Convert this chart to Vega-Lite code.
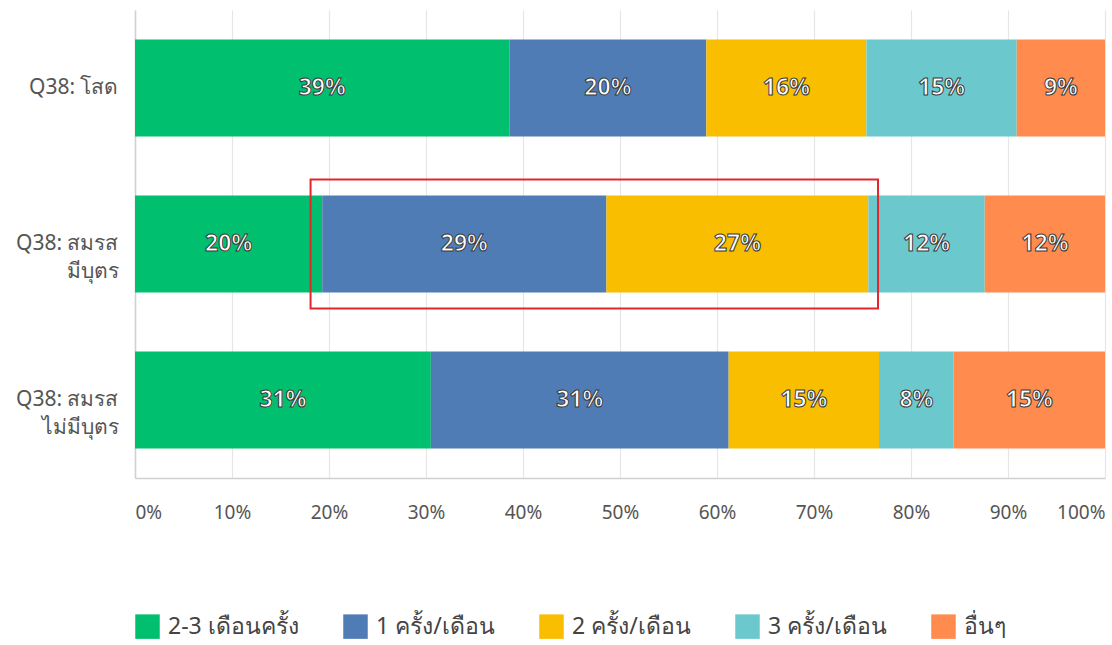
{
  "$schema": "https://vega.github.io/schema/vega-lite/v6.json",
  "width": 970,
  "height": 468,
  "autosize": {"type": "none"},
  "padding": {"left": 135, "top": 10, "right": 7, "bottom": 167},
  "background": "white",
  "config": {
    "font": "Noto Sans",
    "view": {"stroke": null}
  },
  "datasets": {
    "bars": [
      {"group": "Q38: โสด", "cat": "2-3 เดือนครั้ง", "ord": 1, "value": 38.6, "label": "39%"},
      {"group": "Q38: โสด", "cat": "1 ครั้ง/เดือน", "ord": 2, "value": 20.3, "label": "20%"},
      {"group": "Q38: โสด", "cat": "2 ครั้ง/เดือน", "ord": 3, "value": 16.5, "label": "16%"},
      {"group": "Q38: โสด", "cat": "3 ครั้ง/เดือน", "ord": 4, "value": 15.5, "label": "15%"},
      {"group": "Q38: โสด", "cat": "อื่นๆ", "ord": 5, "value": 9.1, "label": "9%"},
      {"group": "Q38: สมรส\nมีบุตร", "cat": "2-3 เดือนครั้ง", "ord": 1, "value": 19.3, "label": "20%"},
      {"group": "Q38: สมรส\nมีบุตร", "cat": "1 ครั้ง/เดือน", "ord": 2, "value": 29.3, "label": "29%"},
      {"group": "Q38: สมรส\nมีบุตร", "cat": "2 ครั้ง/เดือน", "ord": 3, "value": 27.0, "label": "27%"},
      {"group": "Q38: สมรส\nมีบุตร", "cat": "3 ครั้ง/เดือน", "ord": 4, "value": 12.0, "label": "12%"},
      {"group": "Q38: สมรส\nมีบุตร", "cat": "อื่นๆ", "ord": 5, "value": 12.4, "label": "12%"},
      {"group": "Q38: สมรส\nไม่มีบุตร", "cat": "2-3 เดือนครั้ง", "ord": 1, "value": 30.5, "label": "31%"},
      {"group": "Q38: สมรส\nไม่มีบุตร", "cat": "1 ครั้ง/เดือน", "ord": 2, "value": 30.7, "label": "31%"},
      {"group": "Q38: สมรส\nไม่มีบุตร", "cat": "2 ครั้ง/เดือน", "ord": 3, "value": 15.5, "label": "15%"},
      {"group": "Q38: สมรส\nไม่มีบุตร", "cat": "3 ครั้ง/เดือน", "ord": 4, "value": 7.7, "label": "8%"},
      {"group": "Q38: สมรส\nไม่มีบุตร", "cat": "อื่นๆ", "ord": 5, "value": 15.6, "label": "15%"}
    ],
    "box": [
      {"group": "Q38: สมรส\nมีบุตร", "start": 18.1, "end": 76.6}
    ]
  },
  "layer": [
    {
      "data": {"name": "bars"},
      "transform": [
        {"stack": "value", "groupby": ["group"], "sort": [{"field": "ord"}], "as": ["v0", "v1"]}
      ],
      "mark": {"type": "bar", "height": {"band": 0.752}},
      "encoding": {
        "y": {
          "field": "group", "type": "nominal",
          "sort": ["Q38: โสด", "Q38: สมรส\nมีบุตร", "Q38: สมรส\nไม่มีบุตร"],
          "scale": {"paddingInner": 0.173, "paddingOuter": 0.0865},
          "axis": {
            "title": null, "ticks": false, "grid": false,
            "domain": true, "domainColor": "#d0d0d0", "domainWidth": 1.5,
            "labelExpr": "split(datum.label, '\\n')",
            "labelFontSize": 21, "labelColor": "#555555", "labelPadding": 17,
            "labelLineHeight": 28
          }
        },
        "x": {
          "field": "v0", "type": "quantitative",
          "scale": {"domain": [0, 100], "nice": false},
          "axis": {
            "title": null, "values": [0,10,20,30,40,50,60,70,80,90,100],
            "labelExpr": "datum.value + '%'",
            "ticks": false, "grid": true, "gridColor": "#e6e6e6", "gridWidth": 1.2,
            "domain": true, "domainColor": "#d0d0d0", "domainWidth": 1.5,
            "labelFontSize": 19, "labelColor": "#555555", "labelPadding": 25,
            "labelFlush": true
          }
        },
        "x2": {"field": "v1"},
        "color": {
          "field": "cat", "type": "nominal",
          "sort": ["2-3 เดือนครั้ง", "1 ครั้ง/เดือน", "2 ครั้ง/เดือน", "3 ครั้ง/เดือน", "อื่นๆ"],
          "scale": {
            "domain": ["2-3 เดือนครั้ง", "1 ครั้ง/เดือน", "2 ครั้ง/เดือน", "3 ครั้ง/เดือน", "อื่นๆ"],
            "range": ["#00BF6F", "#507CB6", "#F9BE00", "#6BC8CD", "#FF8B4F"]
          },
          "legend": {
            "title": null, "orient": "bottom", "direction": "horizontal",
            "offset": 92, "symbolType": "square", "symbolSize": 600,
            "symbolStrokeWidth": 0, "symbolOpacity": 1,
            "labelFontSize": 23, "labelColor": "#444444", "labelOffset": 8,
            "columnPadding": 44, "labelLimit": 300
          }
        }
      }
    },
    {
      "data": {"name": "bars"},
      "transform": [
        {"stack": "value", "groupby": ["group"], "sort": [{"field": "ord"}], "as": ["v0", "v1"]},
        {"calculate": "(datum.v0 + datum.v1) / 2", "as": "mid"}
      ],
      "mark": {
        "type": "text", "fontSize": 23, "fontWeight": "bold",
        "fill": "#ffffff", "stroke": "#3a3a3a", "strokeWidth": 1,
        "align": "center", "baseline": "middle"
      },
      "encoding": {
        "y": {"field": "group", "type": "nominal", "sort": ["Q38: โสด", "Q38: สมรส\nมีบุตร", "Q38: สมรส\nไม่มีบุตร"]},
        "x": {"field": "mid", "type": "quantitative"},
        "text": {"field": "label"}
      }
    },
    {
      "data": {"name": "box"},
      "mark": {"type": "rect", "fill": null, "fillOpacity": 0, "stroke": "#e3262b", "strokeWidth": 2},
      "encoding": {
        "y": {"field": "group", "type": "nominal", "sort": ["Q38: โสด", "Q38: สมรส\nมีบุตร", "Q38: สมรส\nไม่มีบุตร"]},
        "x": {"field": "start", "type": "quantitative"},
        "x2": {"field": "end"}
      }
    }
  ]
}
